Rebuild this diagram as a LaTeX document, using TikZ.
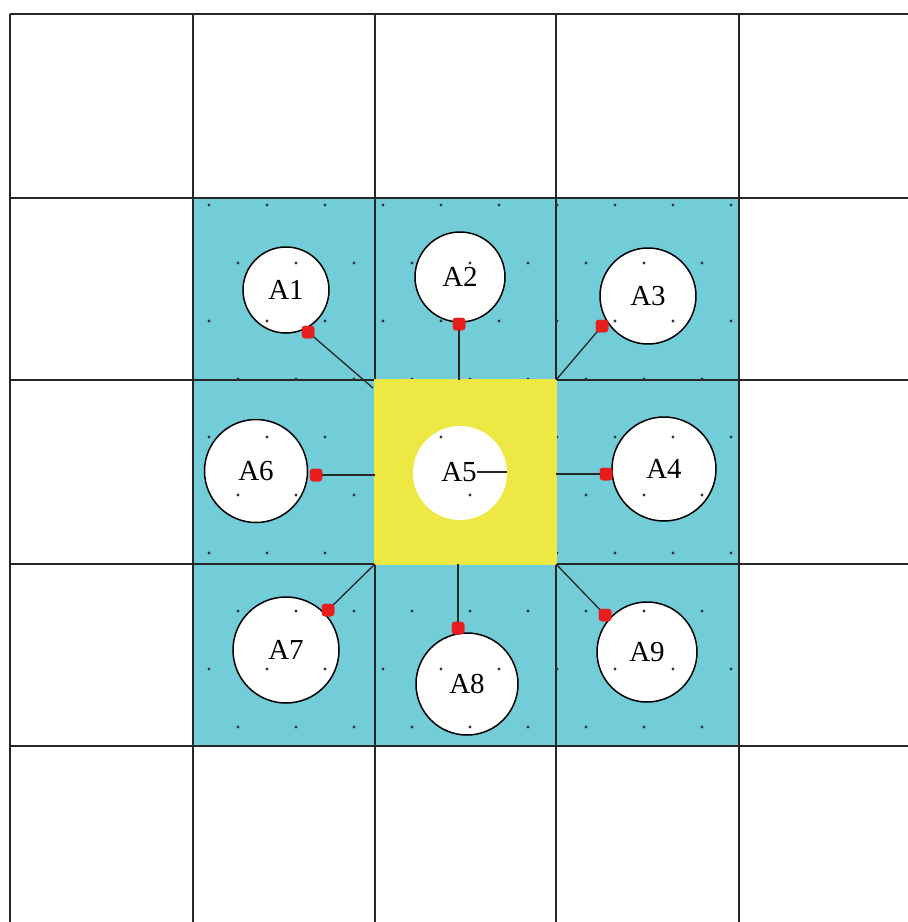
\documentclass[tikz,border=0pt]{standalone}
\usepackage{fontspec}
\setmainfont{Liberation Serif}
\definecolor{cyanfill}{RGB}{114,205,216}
\definecolor{yelfill}{RGB}{237,232,68}
\definecolor{markred}{RGB}{232,30,30}
\begin{document}
\begin{tikzpicture}[x=1pt,y=-1pt,
  gridline/.style={line width=1.9pt,draw=black!85},
  site/.style={circle,draw=black,line width=1.5pt,fill=white,inner sep=0pt,font=\fontsize{29}{29}\selectfont},
  hub/.style={circle,fill=white,inner sep=0pt},
  lbl/.style={inner sep=0pt,font=\fontsize{29}{29}\selectfont},
  marker/.style={fill=markred,rounded corners=3pt,minimum size=12.5pt,inner sep=0pt},
  link/.style={line width=1.3pt,draw=black!85},
  dotmark/.style={fill=black!80}]
\useasboundingbox (0,0) rectangle (908,922);
\fill[white] (0,0) rectangle (908,922);
% cyan block
\fill[cyanfill] (193,198) rectangle (739,746);
% grid
\foreach \x in {10,193,375,556,739} \draw[gridline] (\x,14) -- (\x,922);
\foreach \y in {14,198,380,564,746} \draw[gridline] (10,\y) -- (908,\y);
% outer circles
\node[site,minimum size=86pt] (A1) at (286,290) {A1};
\node[site,minimum size=90pt] (A2) at (460,277) {A2};
\node[site,minimum size=96pt] (A3) at (648,296) {A3};
\node[site,minimum size=103pt] (A6) at (256,471) {A6};
\node[site,minimum size=104pt] (A4) at (664,469) {A4};
\node[site,minimum size=106pt] (A7) at (286,650) {A7};
\node[site,minimum size=102pt] (A8) at (467,684) {A8};
\node[site,minimum size=100pt] (A9) at (647,652) {A9};
% dot pattern
\foreach \k in {0,2,4,6,8} {
  \foreach \j in {0,...,9} \fill[dotmark] ({209+58*\j},{205+58*\k}) circle (1.6);
}
\foreach \k in {1,3,5,7,9} {
  \foreach \j in {0,...,8} \fill[dotmark] ({238+58*\j},{205+58*\k}) circle (1.6);
}
% centre cell
\fill[yelfill] (374,379) rectangle (557,565);
\node[hub,minimum size=94pt] (A5) at (460,473) {};
\begin{scope}
  \clip (460,473) circle (47);
  \foreach \k in {0,2,4,6,8} {
    \foreach \j in {0,...,9} \fill[dotmark] ({209+58*\j},{205+58*\k}) circle (1.6);
  }
  \foreach \k in {1,3,5,7,9} {
    \foreach \j in {0,...,8} \fill[dotmark] ({238+58*\j},{205+58*\k}) circle (1.6);
  }
\end{scope}
\node[lbl] (A5t) at (459,472) {A5};
\draw[link] (A5t.east) -- (A5.east |- A5t.east);
% connection points on centre cell
\coordinate (cNW) at (373,388);
\coordinate (cNE) at (556,380);
\coordinate (cSW) at (375,564);
\coordinate (cSE) at (556,564);
\coordinate (eN) at (459,380);
\coordinate (eS) at (458,564);
\coordinate (eW) at (375,475);
\coordinate (eE) at (556,474);
% markers
\node[marker] (m1) at (308,332) {};
\node[marker] (m2) at (459,324) {};
\node[marker] (m3) at (602,326) {};
\node[marker] (m6) at (316,475) {};
\node[marker] (m4) at (606,474) {};
\node[marker] (m7) at (328,610) {};
\node[marker] (m8) at (458,628) {};
\node[marker] (m9) at (605,615) {};
% connectors
\draw[link] (m1.center) -- (cNW);
\draw[link] (m2.center) -- (eN);
\draw[link] (m3.center) -- (cNE);
\draw[link] (m6.center) -- (eW);
\draw[link] (m4.center) -- (eE);
\draw[link] (m7.center) -- (cSW);
\draw[link] (m8.center) -- (eS);
\draw[link] (m9.center) -- (cSE);
\foreach \m in {m1,m2,m3,m4,m6,m7,m8,m9} \node[marker] at (\m) {};
\end{tikzpicture}
\end{document}
